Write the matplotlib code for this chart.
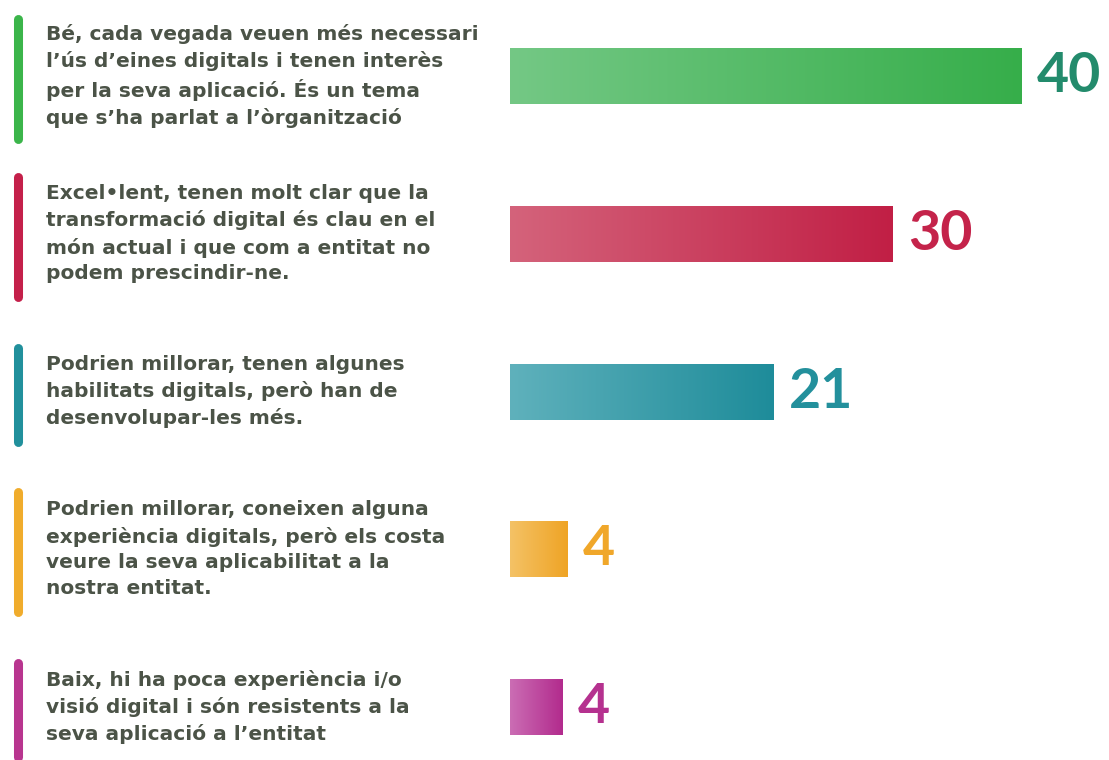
import numpy as np
import matplotlib
matplotlib.use("Agg")
import matplotlib.pyplot as plt
import matplotlib.transforms as mtransforms
from matplotlib.colors import LinearSegmentedColormap

# answers (top to bottom)
labels = [
    "Bé, cada vegada veuen més necessari\nl’ús d’eines digitals i tenen interès\nper la seva aplicació. És un tema\nque s’ha parlat a l’òrganització",
    "Excel•lent, tenen molt clar que la\ntransformació digital és clau en el\nmón actual i que com a entitat no\npodem prescindir-ne.",
    "Podrien millorar, tenen algunes\nhabilitats digitals, però han de\ndesenvolupar-les més.",
    "Podrien millorar, coneixen alguna\nexperiència digitals, però els costa\nveure la seva aplicabilitat a la\nnostra entitat.",
    "Baix, hi ha poca experiència i/o\nvisió digital i són resistents a la\nseva aplicació a l’entitat",
]
values = [40, 29.9, 20.6, 4.5, 4.1]
value_labels = ["40", "30", "21", "4", "4"]

bar_light = ["#74c885", "#d4637b", "#5fb1bc", "#f4c266", "#cb6db4"]
bar_dark = ["#36ae4a", "#c11f45", "#1e8c9a", "#efa425", "#b22b8d"]
num_colors = ["#238b6c", "#c4234a", "#23909c", "#f0a72a", "#b5318f"]
line_colors = ["#3bb54a", "#c4204a", "#21909c", "#f0ac2c", "#b8358f"]
text_color = "#4b5347"

W, H = 1109, 760
fig = plt.figure(figsize=(W / 100, H / 100), dpi=100)
ax = fig.add_axes([510 / W, 0, (W - 510) / W, 1])
ax.axis("off")

xmax = 40 * (W - 510) / 512
y = np.arange(len(values))
bar_h = 0.355

for i, v in enumerate(values):
    cmap = LinearSegmentedColormap.from_list("g%d" % i, [bar_light[i], bar_dark[i]])
    grad = np.linspace(0, 1, 256).reshape(1, -1)
    ax.imshow(grad, cmap=cmap, aspect="auto", interpolation="bicubic",
              extent=[0, v, y[i] + bar_h / 2, y[i] - bar_h / 2], zorder=2)
    ax.annotate(value_labels[i], (v, y[i]), xytext=(11, 0), textcoords="offset points",
                ha="left", va="center", fontsize=40, fontweight="bold",
                color=num_colors[i], family=["Lato", "DejaVu Sans"])

ax.set_xlim(0, xmax)
ax.set_ylim(4.336, -0.482)

# labels on the left with coloured markers
trans = mtransforms.blended_transform_factory(fig.transFigure, ax.transData)
px = 157.75  # pixels per category
for i, lab in enumerate(labels):
    n = lab.count("\n") + 1
    half = (n * 13 + 8) / px
    ax.plot([18 / W, 18 / W], [y[i] - half + 3 / px, y[i] + half + 3 / px], transform=trans,
            color=line_colors[i], lw=6.5, solid_capstyle="round", clip_on=False)
    ax.text(46 / W, y[i], lab, transform=trans, ha="left", va="center",
            fontsize=14.5, fontweight="bold", color=text_color, linespacing=1.45,
            family="DejaVu Sans")

fig.savefig("out.png", dpi=100)
